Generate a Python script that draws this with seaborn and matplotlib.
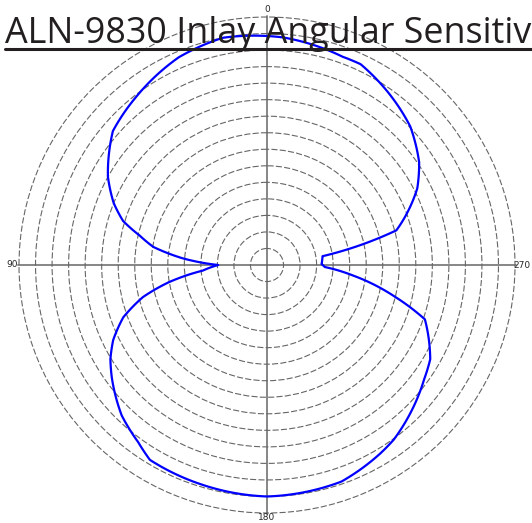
import numpy as np
import pandas as pd
import matplotlib
matplotlib.use("Agg")
import matplotlib.pyplot as plt
import seaborn as sns
from matplotlib.lines import Line2D

# Angular response (degrees, radius in ring units)
angle_deg = [0, 11, 23, 37.6, 49, 61, 68, 73, 77, 81, 85.5, 90, 95, 100, 104.5,
             110, 116, 121, 126, 136, 144, 149, 163, 180, 199, 211, 216, 234,
             240, 251, 256, 263, 268, 271, 279, 285, 297, 304, 314, 335, 340,
             356, 360]
response = [13.85, 14.0, 13.65, 12.9, 12.35, 11.0, 10.0, 9.1, 7.9, 6.95, 5.1,
            2.95, 3.9, 6.05, 7.75, 9.25, 10.35, 11.05, 11.6, 12.65, 13.25, 13.75,
            13.85, 14.0, 13.85, 13.3, 13.05, 11.75, 11.4, 10.1, 8.0, 5.25, 3.5,
            3.3, 3.4, 8.1, 10.2, 11.1, 12.05, 13.4, 13.4, 13.8, 13.85]
ring_levels = list(range(1, 16))
angle_ticks = [0, 90, 180, 270]
angle_labels = ["0", "90", "180", "270"]
title_text = "ALN-9830 Inlay Angular Sensitiv"

sns.set_style("white")
plt.rcParams['font.family'] = ['Open Sans', 'DejaVu Sans']

df = pd.DataFrame({"theta": np.deg2rad(angle_deg), "r": response})

r_max = 15.1
rad_px = 248 * r_max / 15
fig = plt.figure(figsize=(5.32, 5.23), dpi=100)
ax = fig.add_axes([(267 - rad_px) / 532, (258 - rad_px) / 523,
                   2 * rad_px / 532, 2 * rad_px / 523], projection="polar")
ax.set_theta_zero_location("N")
ax.set_theta_direction(1)

sns.lineplot(data=df, x="theta", y="r", sort=False, estimator=None,
             color="#0000ff", lw=1.6, ax=ax)
# follow the angle between readings instead of drawing chords
curve = ax.lines[-1]
curve.get_path()._interpolation_steps = 40

ax.set_ylim(0, r_max)
ax.set_yticks(ring_levels)
ax.set_yticklabels([])
ax.set_xticks(np.deg2rad(angle_ticks))
# the bottom label sits right at the figure edge, place it by hand
ax.set_xticklabels(angle_labels[:2] + [""] + angle_labels[3:], fontsize=6.5,
                   family="DejaVu Sans")
ax.annotate(angle_labels[2], xy=(np.deg2rad(angle_ticks[2]), ring_levels[-1]),
            xytext=(0, -5), textcoords="offset points", ha="center",
            va="baseline", fontsize=6.5, family="DejaVu Sans", color="#262626")
ax.tick_params(axis="x", pad=-3, length=0)
ax.yaxis.grid(True, color="#666666", lw=0.8, linestyle=(0, (5.5, 2)))
ax.xaxis.grid(True, color="#666666", lw=1.1, linestyle="-")
ax.spines["polar"].set_visible(False)
ax.set_xlabel("")
ax.set_ylabel("")

# Underlined title
fig.text(5 / 532, 1 - 43 / 523, title_text, fontsize=25.8, ha="left",
         va="baseline", color="#231f20")
fig.add_artist(Line2D([5 / 532, 1], [1 - 49 / 523] * 2, transform=fig.transFigure,
                      color="#231f20", lw=2.2))

fig.savefig("out.png", dpi=100)
